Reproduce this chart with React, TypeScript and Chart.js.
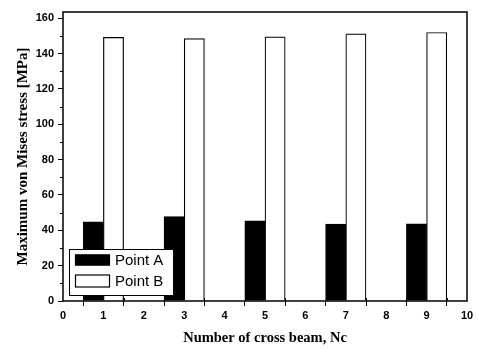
import React, { useEffect, useRef } from "react";
import { Chart, registerables } from "chart.js";

Chart.register(...registerables);

const crossBeams = [1, 3, 5, 7, 9];
const pointA = [44.8, 47.7, 45.4, 43.5, 43.7];
const pointB = [149.1, 148.5, 149.4, 151.1, 151.9];
const seriesLabels = ["Point A", "Point B"];
const xTitle = "Number of cross beam, Nc";
const yTitle = "Maximum von Mises stress [MPa]";
const xMinorTicks = [0.5, 1.5, 2.5, 3.5, 4.5, 5.5, 6.5, 7.5, 8.5, 9.5];
const yMinorTicks = [10, 30, 50, 70, 90, 110, 130, 150];

const TICK_FONT = { family: "'Liberation Sans', Arial, sans-serif", size: 11, weight: "bold" as const };
const X_TITLE_FONT = "bold 14.5px 'Liberation Serif', 'Times New Roman', serif";
const Y_TITLE_FONT = "bold 15px 'Liberation Serif', 'Times New Roman', serif";
const LEGEND_FONT = "15px 'Liberation Sans', Arial, sans-serif";

const decorPlugin = {
  id: "decor",
  afterDatasetsDraw(chart: any) {
    const { ctx, chartArea } = chart;
    const ds = chart.data.datasets;
    const boxW = 104;
    const boxH = 46;
    const left = chartArea.left + 6;
    const top = chartArea.bottom - 6 - boxH;
    ctx.save();
    ctx.fillStyle = "#fff";
    ctx.strokeStyle = "#000";
    ctx.lineWidth = 1;
    ctx.fillRect(left, top, boxW, boxH);
    ctx.strokeRect(left + 0.5, top + 0.5, boxW, boxH);
    const rows = [top + 11, top + 32];
    const heights = [11, 13];
    ds.forEach((d: any, i: number) => {
      const h = heights[i];
      ctx.fillStyle = d.backgroundColor;
      ctx.fillRect(left + 6, rows[i] - h / 2, 35, h);
      ctx.strokeStyle = "#000";
      ctx.lineWidth = 1.2;
      ctx.strokeRect(left + 6.5, rows[i] - h / 2 + 0.5, 34, h - 1);
      ctx.fillStyle = "#000";
      ctx.font = LEGEND_FONT;
      ctx.textBaseline = "middle";
      ctx.textAlign = "left";
      ctx.fillText(d.label, left + 46, rows[i] + 1);
    });
    ctx.restore();
  },
  afterDraw(chart: any) {
    const { ctx, chartArea, scales } = chart;
    const { left, right, top, bottom } = chartArea;
    ctx.save();
    ctx.strokeStyle = "#000";
    ctx.lineWidth = 1.5;
    ctx.strokeRect(left, top, right - left, bottom - top);
    ctx.lineWidth = 1;
    ctx.beginPath();
    yMinorTicks.forEach((v) => {
      const y = Math.round(scales.y.getPixelForValue(v)) + 0.5;
      ctx.moveTo(left - 3, y);
      ctx.lineTo(left, y);
    });
    xMinorTicks.forEach((v) => {
      const x = Math.round(scales.x.getPixelForValue(v)) + 0.5;
      ctx.moveTo(x, bottom);
      ctx.lineTo(x, bottom - 3);
    });
    ctx.stroke();
    ctx.fillStyle = "#000";
    ctx.textAlign = "center";
    ctx.textBaseline = "middle";
    ctx.font = X_TITLE_FONT;
    ctx.fillText(xTitle, (left + right) / 2, bottom + 37);
    ctx.font = Y_TITLE_FONT;
    ctx.translate(left - 40, (top + bottom) / 2);
    ctx.rotate(-Math.PI / 2);
    ctx.fillText(yTitle, 0, 0);
    ctx.restore();
  },
};

export default function App() {
  const ref = useRef<HTMLCanvasElement | null>(null);
  useEffect(() => {
    if (!ref.current) return;
    const chart = new Chart(ref.current, {
      type: "bar",
      data: {
        datasets: [
          {
            label: seriesLabels[0],
            data: crossBeams.map((x, i) => ({ x, y: pointA[i] })),
            backgroundColor: "#000",
            borderColor: "#000",
            borderWidth: 1.2,
          },
          {
            label: seriesLabels[1],
            data: crossBeams.map((x, i) => ({ x, y: pointB[i] })),
            backgroundColor: "#fff",
            borderColor: "#000",
            borderWidth: 1.2,
          },
        ],
      },
      options: {
        animation: false,
        responsive: false,
        events: [],
        layout: { padding: { left: 0, top: 12, right: 11, bottom: 0 } },
        datasets: { bar: { categoryPercentage: 1, barPercentage: 1 } },
        plugins: { legend: { display: false }, tooltip: { enabled: false }, title: { display: false } },
        scales: {
          x: {
            type: "linear",
            min: 0,
            max: 10,
            offset: false,
            ticks: { stepSize: 1, font: TICK_FONT, color: "#000", padding: 3, includeBounds: false },
            grid: { drawOnChartArea: false, drawTicks: true, tickLength: 5, color: "#000", lineWidth: 1 },
            border: { display: false },
            afterFit: (s: any) => { s.height = 48; },
          },
          y: {
            type: "linear",
            min: 0,
            max: 163.5,
            ticks: { stepSize: 20, font: TICK_FONT, color: "#000", padding: 4, includeBounds: false },
            grid: { drawOnChartArea: false, drawTicks: true, tickLength: 5, color: "#000", lineWidth: 1 },
            border: { display: false },
            afterFit: (s: any) => { s.width = 63; },
          },
        },
      },
      plugins: [decorPlugin],
    } as any);
    return () => chart.destroy();
  }, []);
  return (
    <div style={{ position: "fixed", left: 0, top: 0, width: 478, height: 349, background: "#fff" }}>
      <canvas ref={ref} width={478} height={349} />
    </div>
  );
}
